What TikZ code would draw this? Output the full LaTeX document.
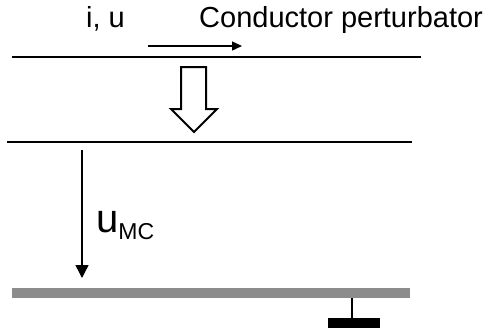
\documentclass[tikz,border=0pt]{standalone}
\usepackage{fontspec}
\setmainfont{Liberation Sans}
\usetikzlibrary{arrows.meta}
\tikzset{
  wire/.style={draw=black,line width=2pt},            % conductor
  flow/.style={-{Triangle[length=10pt,width=9pt]},line width=1.4pt},
  volt/.style={-{Triangle[length=13pt,width=13pt]},line width=1.4pt},
  hollow/.style={draw=black,fill=white,line width=2pt},
  plane/.style={fill=black!45},
  lbl/.style={inner sep=0pt,anchor=base west},
}
\newcommand{\bigtxt}{\fontsize{29}{34}\selectfont}

\begin{document}
\begin{tikzpicture}[x=1pt,y=-1pt]
  \useasboundingbox (0,0) rectangle (493,327);
  % perturbing conductor and victim conductor
  \draw[wire] (12,57) -- (421,57);
  \draw[wire] (7,142) -- (412,142);
  \node[lbl] (iu) at (86,27) {\bigtxt i, u};
  \node[lbl] (cond) at (199,27) {\bigtxt Conductor perturbator};
  \coordinate (fa) at (148,46);
  \coordinate (fb) at (242,46);
  \draw[flow] (fa) -- (fb);
  % coupling
  \draw[hollow] (181,67) -- (206,67) -- (206,109) -- (217,109) -- (194,132)
    -- (171,109) -- (181,109) -- cycle;
  % common mode voltage
  \coordinate (va) at (82,150);
  \coordinate (vb) at (82,278);
  \draw[volt] (va) -- (vb);
  \node[lbl] (umc) at (96,232) {\fontsize{40}{44}\selectfont u\fontsize{23}{26}\selectfont\raisebox{-7pt}{MC}};
  % reference plane and ground
  \fill[plane] (12,288) rectangle (410,298);
  \draw[line width=2pt] (352,298) -- (352,318);
  \fill (328,318) rectangle (380,330);
\end{tikzpicture}
\end{document}
